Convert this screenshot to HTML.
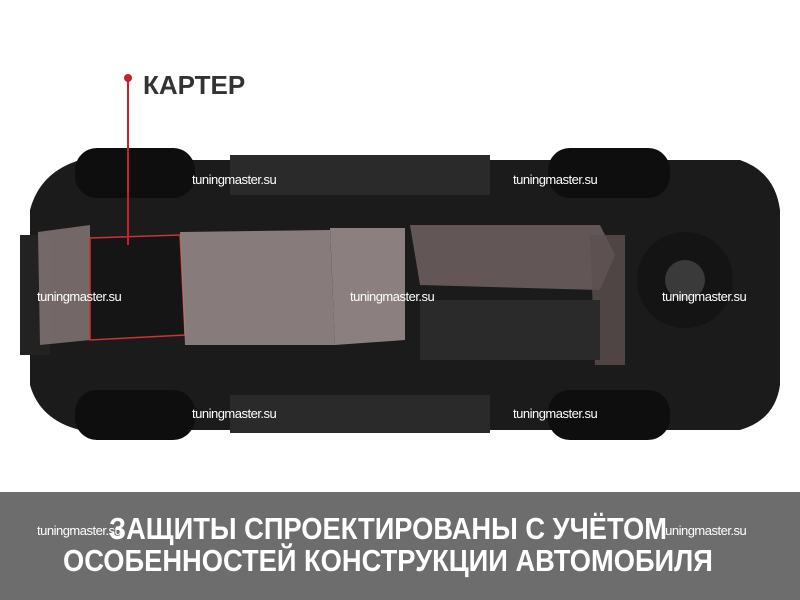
<!DOCTYPE html>
<html><head><meta charset="utf-8"><style>
body{margin:0;width:800px;height:600px;overflow:hidden;background:#fff;font-family:"Liberation Sans",sans-serif;position:relative}
.wm{position:absolute;color:#fff;font-size:13px;letter-spacing:-0.5px}
.band{position:absolute;left:0;top:492px;width:800px;height:108px;background:#6d6d6d}
.t{position:absolute;left:-12px;width:800px;text-align:center;color:#fff;font-weight:bold;font-size:31px;transform:scaleX(0.88);}
</style></head><body>
<svg width="800" height="600" style="position:absolute;left:0;top:0">
<path d="M30 210 Q40 172 80 160 L740 160 Q775 172 780 210 L780 385 Q775 420 740 430 L80 430 Q40 420 30 385 Z" fill="#1b1b1b"/>
<rect x="20" y="235" width="30" height="120" fill="#222"/>
<rect x="75" y="148" width="120" height="50" rx="22" fill="#0e0e0e"/>
<rect x="75" y="390" width="120" height="50" rx="22" fill="#0e0e0e"/>
<rect x="548" y="148" width="122" height="50" rx="22" fill="#0e0e0e"/>
<rect x="548" y="390" width="122" height="50" rx="22" fill="#0e0e0e"/>
<rect x="230" y="155" width="260" height="40" fill="#2a2a2a"/>
<rect x="230" y="395" width="260" height="38" fill="#2a2a2a"/>
<circle cx="685" cy="280" r="48" fill="#141414"/>
<circle cx="685" cy="280" r="20" fill="#3a3a3a"/>
<path d="M38 232 L90 225 L90 340 L40 345 Z" fill="#8a7a7a" opacity="0.8"/>
<path d="M90 238 L180 235 L185 335 L90 340 Z" fill="#151515" stroke="#c33" stroke-width="1.5"/>
<path d="M180 232 L330 230 L335 345 L185 345 Z" fill="#9a8c8c" opacity="0.85"/>
<path d="M330 228 L405 228 L405 340 L335 345 Z" fill="#a09090" opacity="0.85"/>
<path d="M410 225 L600 225 L615 255 L600 290 L420 285 Z" fill="#6e6060" opacity="0.85"/>
<path d="M590 235 L625 235 L625 365 L595 365 Z" fill="#5e5050" opacity="0.8"/>
<rect x="420" y="300" width="180" height="60" fill="#2a2a2a"/>
<line x1="128" y1="78" x2="128" y2="245" stroke="#c8202a" stroke-width="2"/>
<circle cx="128" cy="78" r="4" fill="#c8202a"/>
</svg>
<div style="position:absolute;left:143px;top:70px;font-weight:bold;font-size:26px;color:#333">КАРТЕР</div>
<div class="wm" style="left:192px;top:172px">tuningmaster.su</div>
<div class="wm" style="left:513px;top:172px">tuningmaster.su</div>
<div class="wm" style="left:37px;top:289px">tuningmaster.su</div>
<div class="wm" style="left:350px;top:289px">tuningmaster.su</div>
<div class="wm" style="left:662px;top:289px">tuningmaster.su</div>
<div class="wm" style="left:192px;top:406px">tuningmaster.su</div>
<div class="wm" style="left:513px;top:406px">tuningmaster.su</div>
<div class="band"></div>
<div class="t" style="top:511px">ЗАЩИТЫ СПРОЕКТИРОВАНЫ С УЧЁТОМ</div>
<div class="t" style="top:543px">ОСОБЕННОСТЕЙ КОНСТРУКЦИИ АВТОМОБИЛЯ</div>
<div class="wm" style="left:37px;top:523px">tuningmaster.su</div>
<div class="wm" style="left:662px;top:523px">tuningmaster.su</div>
</body></html>
